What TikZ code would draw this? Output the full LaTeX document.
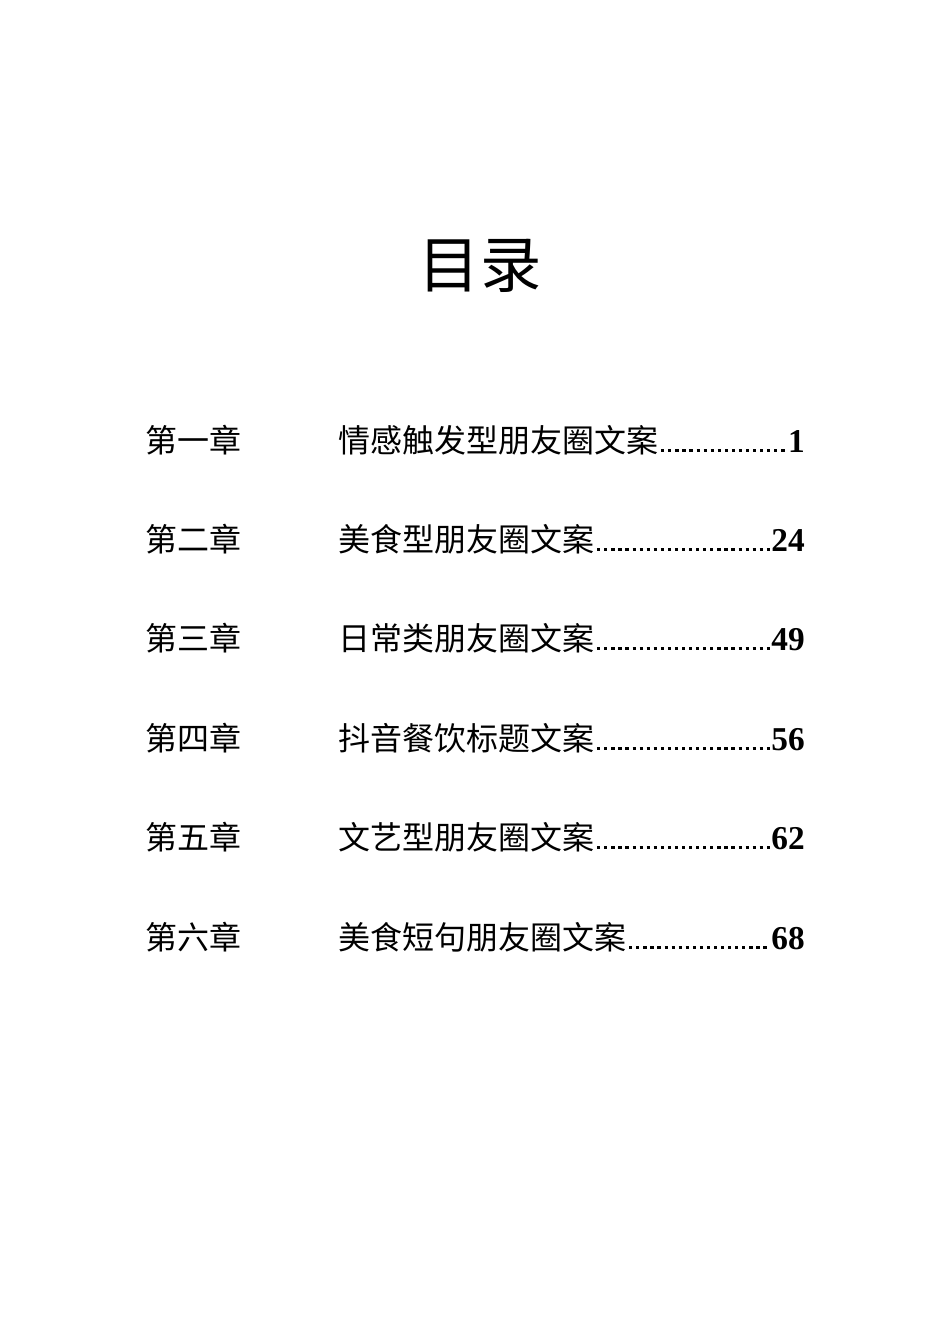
\documentclass[tikz,border=0pt]{standalone}
\usepackage{fontspec}
\newfontfamily\cjk{Noto Sans CJK SC}
\newfontfamily\num{Liberation Serif}
\begin{document}
\begin{tikzpicture}[x=0.75pt,y=-0.75pt,
  chap/.style={anchor=base west,inner sep=0pt,font=\cjk\fontsize{24}{24}\selectfont},
  ttl/.style={anchor=base west,inner sep=0pt,font=\cjk\fontsize{24}{24}\selectfont},
  pg/.style={anchor=base east,inner sep=0pt,font=\num\bfseries\fontsize{25}{25}\selectfont},
  leader/.style={line width=2.4pt,dash pattern=on 2.4pt off 2.9pt}]
\useasboundingbox (0,0) rectangle (950,1344);
\node[inner sep=0pt,font=\cjk\fontsize{46}{46}\selectfont] (title) at (480,266) {目录};
\foreach \i/\y/\c/\t/\p in {1/452/第一章/情感触发型朋友圈文案/1,2/551/第二章/美食型朋友圈文案/24,3/650/第三章/日常类朋友圈文案/49,4/750/第四章/抖音餐饮标题文案/56,5/849/第五章/文艺型朋友圈文案/62,6/949/第六章/美食短句朋友圈文案/68}{
  \node[chap] (c\i) at (145,\y) {\c};
  \node[ttl] (t\i) at (338,\y) {\t};
  \node[pg] (n\i) at (805,\y) {\p};
  \draw[leader] ([xshift=2pt,yshift=1.2pt]t\i.base east) -- ([xshift=-1pt,yshift=1.2pt]n\i.base west);
}
\end{tikzpicture}
\end{document}
